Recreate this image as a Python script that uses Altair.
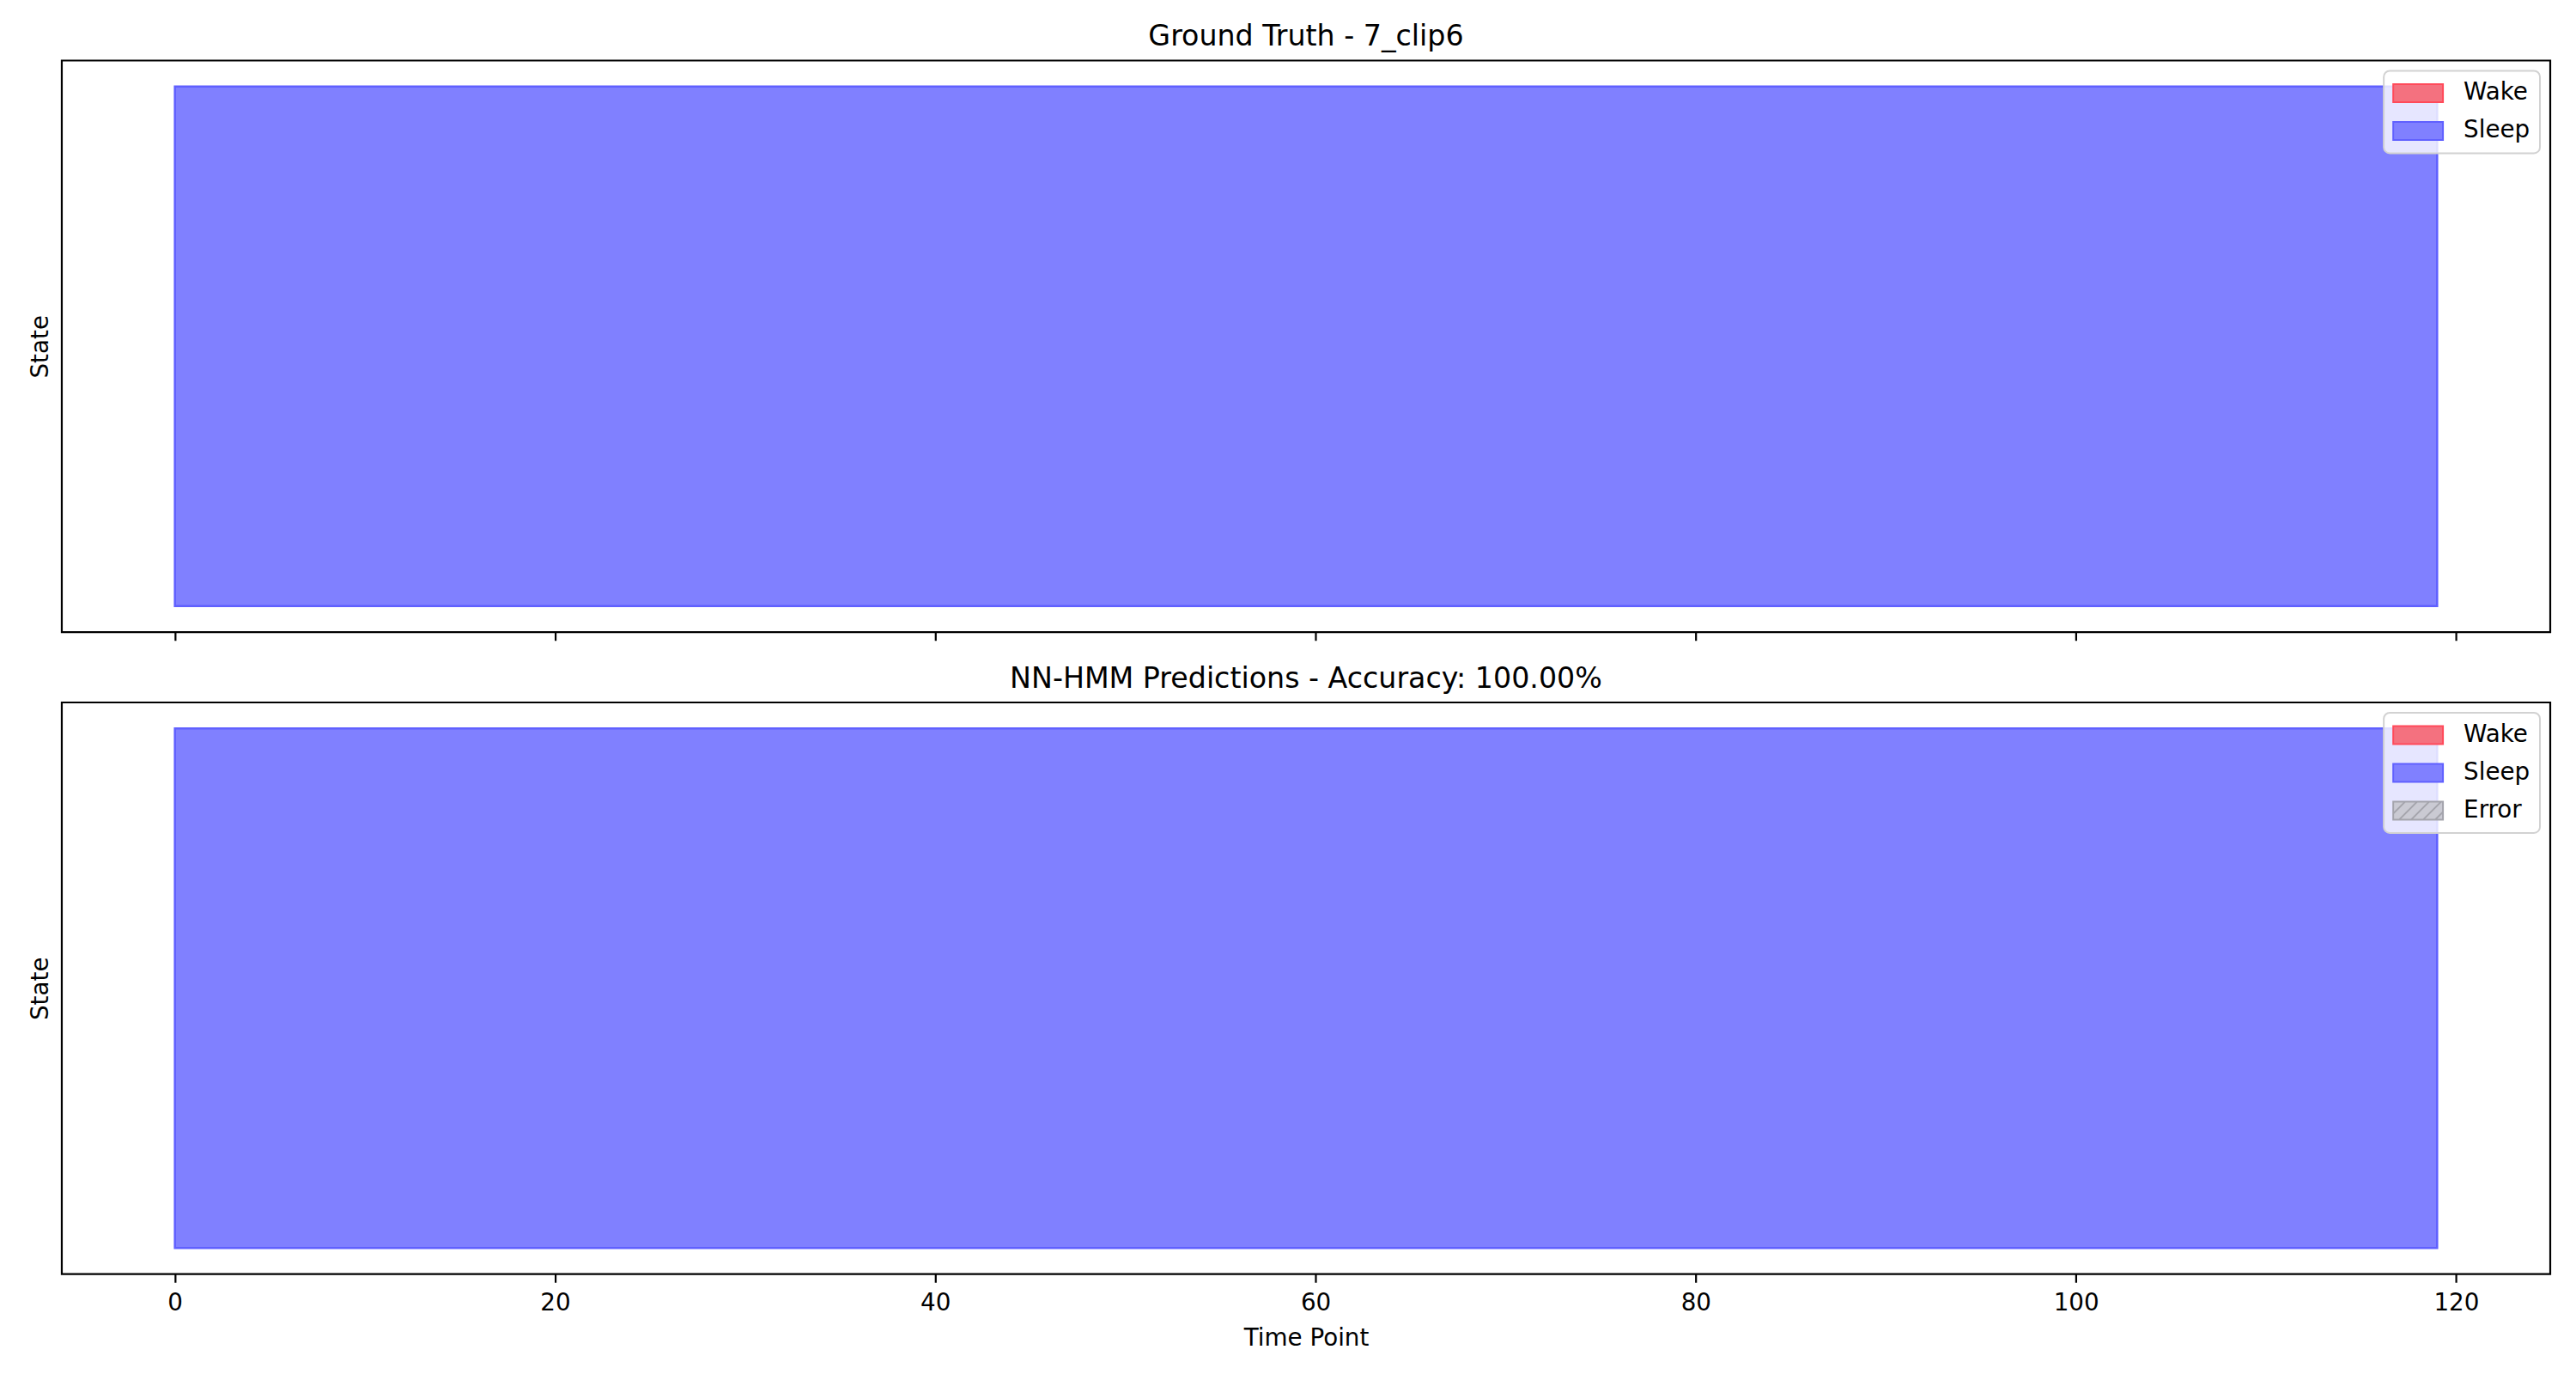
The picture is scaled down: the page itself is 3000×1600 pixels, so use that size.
import altair as alt
import pandas as pd

# ---- data ----
time_points = list(range(120))
truth_states = ["Sleep"] * 120
pred_states = ["Sleep"] * 120
x_ticks = [0, 20, 40, 60, 80, 100, 120]
truth_title = "Ground Truth - 7_clip6"
pred_title = "NN-HMM Predictions - Accuracy: 100.00%"

truth_legend = ["Wake", "Sleep"]
pred_legend = ["Wake", "Sleep", "Error"]
fill_colors = {"Wake": "#F4717F", "Sleep": "#8080FF", "Error": "#CACAD3"}
stroke_colors = {"Wake": "#FF4A5A", "Sleep": "#6060FF", "Error": "#A4A4AC"}

FONT = "DejaVu Sans"

# ---- legend symbol paths (unit = sqrt(size)/2 = 14px) ----
HW, HH = 2.07, 0.75
rect_path = f"M{-HW},{-HH}H{HW}V{HH}H{-HW}Z"


def hatch_path():
    segs = []
    step = 1.0
    span = 2 * HH
    x0 = -HW - span
    while x0 < HW:
        t0 = max(0.0, -HW - x0)
        t1 = min(span, HW - x0)
        if t1 > t0:
            xa, ya = x0 + t0, HH - t0
            xb, yb = x0 + t1, HH - t1
            segs.append(f"M{xa:.3f},{ya:.3f}L{xb:.3f},{yb:.3f}")
        x0 += step
    return rect_path + "".join(segs)


shape_paths = {"Wake": rect_path, "Sleep": rect_path, "Error": hatch_path()}


def make_df(states):
    return pd.DataFrame({
        "time": time_points,
        "state": states,
        "top": [1 if s in ("Sleep", "Wake") else 0 for s in states],
        "bottom": [0 for _ in states],
    })


def panel(states, title, legend_domain, bottom):
    df = make_df(states)
    fill_scale = alt.Scale(domain=legend_domain, range=[fill_colors[k] for k in legend_domain])
    stroke_scale = alt.Scale(domain=legend_domain, range=[stroke_colors[k] for k in legend_domain])
    shape_scale = alt.Scale(domain=legend_domain, range=[shape_paths[k] for k in legend_domain])
    legend = alt.Legend(
        title=None,
        orient="top-right",
        offset=12,
        padding=11,
        fillColor="rgba(255,255,255,0.8)",
        strokeColor="#D2D2D2",
        cornerRadius=7,
        labelFont=FONT,
        labelFontSize=27.8,
        labelColor="black",
        labelOffset=38,
        rowPadding=14,
        symbolSize=784,
        symbolOffset=14,
        symbolStrokeWidth=2,
    )
    xscale = alt.Scale(domain=[-5.95, 124.95], nice=False, zero=False)
    xaxis = alt.Axis(
        values=x_ticks,
        labels=bottom,
        title="Time Point" if bottom else "",
        grid=False,
        domain=False,
        ticks=True,
        tickSize=9.7,
        tickWidth=2.2,
        tickColor="black",
        labelFont=FONT,
        labelFontSize=27.8,
        labelColor="black",
        labelPadding=10,
        titleFont=FONT,
        titleFontSize=27.8,
        titleFontWeight="normal",
        titleColor="black",
        titlePadding=14,
        format="d",
    )
    yscale = alt.Scale(domain=[-0.05, 1.05], nice=False, zero=False)
    yaxis = alt.Axis(
        title="State",
        labels=False,
        ticks=False,
        grid=False,
        domain=False,
        titleFont=FONT,
        titleFontSize=27.8,
        titleFontWeight="normal",
        titleColor="black",
        titlePadding=10,
    )
    base = alt.Chart(df)
    area = base.mark_area(opacity=1, strokeWidth=2.5, interpolate="linear").encode(
        x=alt.X("time:Q", scale=xscale, axis=xaxis),
        y=alt.Y("top:Q", scale=yscale, axis=yaxis),
        y2="bottom:Q",
        fill=alt.Fill("state:N", scale=fill_scale, legend=legend),
        stroke=alt.Stroke("state:N", scale=stroke_scale, legend=legend),
    )
    pts = base.mark_point(filled=True, opacity=1).encode(
        x=alt.X("time:Q", scale=xscale, axis=xaxis),
        y=alt.Y("top:Q", scale=yscale, axis=yaxis),
        shape=alt.Shape("state:N", scale=shape_scale, legend=legend),
        fill=alt.Fill("state:N", scale=fill_scale, legend=legend),
        stroke=alt.Stroke("state:N", scale=stroke_scale, legend=legend),
    ).transform_filter("false")
    return alt.layer(area, pts).properties(
        width=2900,
        height=666,
        title=alt.TitleParams(
            text=title,
            font=FONT,
            fontSize=33.3,
            fontWeight="normal",
            color="black",
            anchor="middle",
            offset=10,
        ),
    )


top = panel(truth_states, truth_title, truth_legend, False)
bot = panel(pred_states, pred_title, pred_legend, True)

chart = alt.vconcat(top, bot, spacing=24).resolve_scale(
    x="independent", y="independent", fill="independent",
    stroke="independent", shape="independent",
).resolve_legend(fill="independent", stroke="independent", shape="independent").properties(
    padding={"left": 24, "top": 16, "right": 20, "bottom": 20},
).configure(
    font=FONT, background="white",
).configure_view(
    stroke="black", strokeWidth=2.2,
).configure_legend(
    strokeWidth=2,
)

chart.save("out.html", embed_options={"renderer": "svg", "actions": False})
